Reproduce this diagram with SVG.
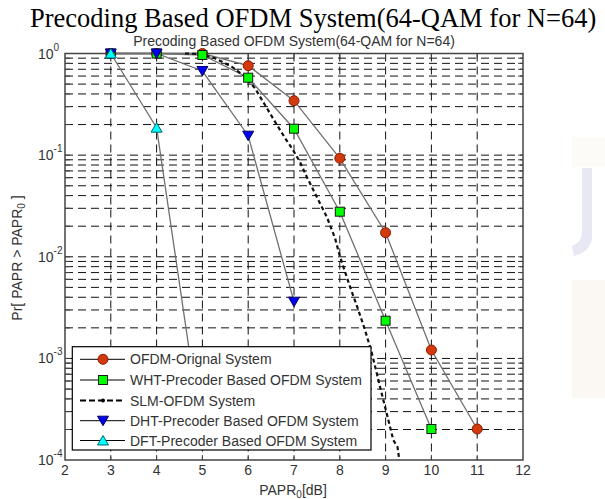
<svg xmlns="http://www.w3.org/2000/svg" width="605" height="499" viewBox="0 0 605 499">
<style>
.grid{fill:none;stroke:#111;stroke-width:1;stroke-dasharray:8 5}
.frame{fill:none;stroke:#444;stroke-width:1.5}
.tick{fill:none;stroke:#444;stroke-width:1}
.curve{fill:none;stroke:#707070;stroke-width:1.3}
.slm{fill:none;stroke:#111;stroke-width:2.2;stroke-dasharray:4 3}
.lbl{font-family:"Liberation Sans",Arial,sans-serif;font-size:14px;fill:#333}
.sup{font-size:10px}
.big{font-family:"Liberation Serif","Times New Roman",serif;font-size:26.5px;fill:#000}
.leg{fill:#fff;stroke:#000;stroke-width:1.2}
.legline{stroke:#000;stroke-width:1}
</style>
<defs>
<circle id="mO" r="5" fill="#d23a0e" stroke="#8a1c00" stroke-width="1"/>
<rect id="mS" x="-4.5" y="-4.5" width="9" height="9" fill="#00ff00" stroke="#1a1a1a" stroke-width="1"/>
<polygon id="mV" points="-5.5,-4.5 5.5,-4.5 0,5" fill="#0000ee" stroke="#000066" stroke-width="1"/>
<polygon id="mA" points="-5.5,4.5 5.5,4.5 0,-5" fill="#00ffff" stroke="#006666" stroke-width="1"/>
</defs>
<rect width="605" height="499" fill="#fff"/>
<g id="background" opacity="0.6">
<rect x="572" y="137" width="33" height="30" fill="#fbfaf2"/>
<rect x="572" y="280" width="33" height="118" fill="#f9f2ea"/>
<path d="M582,168 L592,168 L592,238 Q590,252 574,256 L572,246 Q582,242 582,232 Z" fill="#d9d9ef"/>
</g>
<text class="big" x="30" y="27">Precoding Based OFDM System(64-QAM for N=64)</text>
<text class="lbl" x="294" y="46" text-anchor="middle">Precoding Based OFDM System(64-QAM for N=64)</text>
<g id="axes">
<path class="grid" d="M65,58.15H523M65,63.35H523M65,69.25H523M65,76.05H523M65,84.1H523M65,93.95H523M65,106.65H523M65,124.55H523M65,155.15H523
M65,159.8H523M65,165H523M65,170.9H523M65,177.7H523M65,185.75H523M65,195.6H523M65,208.3H523M65,226.2H523M65,256.8H523
M65,261.45H523M65,266.65H523M65,272.55H523M65,279.35H523M65,287.4H523M65,297.25H523M65,309.95H523M65,327.85H523M65,358.45H523
M65,363.1H523M65,368.3H523M65,374.2H523M65,381H523M65,389.05H523M65,398.9H523M65,411.6H523M65,429.5H523"/>
<path class="grid" d="M110.8,53.5V460M156.6,53.5V460M202.4,53.5V460M248.2,53.5V460M294,53.5V460M339.8,53.5V460M385.6,53.5V460M431.4,53.5V460M477.2,53.5V460"/>
<path class="tick" d="M65,58.15h5M65,63.35h5M65,69.25h5M65,76.05h5M65,84.1h5M65,93.95h5M65,106.65h5M65,124.55h5M65,155.15h5
M65,159.8h5M65,165h5M65,170.9h5M65,177.7h5M65,185.75h5M65,195.6h5M65,208.3h5M65,226.2h5M65,256.8h5
M65,261.45h5M65,266.65h5M65,272.55h5M65,279.35h5M65,287.4h5M65,297.25h5M65,309.95h5M65,327.85h5M65,358.45h5
M65,363.1h5M65,368.3h5M65,374.2h5M65,381h5M65,389.05h5M65,398.9h5M65,411.6h5M65,429.5h5
M523,58.15h-5M523,63.35h-5M523,69.25h-5M523,76.05h-5M523,84.1h-5M523,93.95h-5M523,106.65h-5M523,124.55h-5M523,155.15h-5
M523,159.8h-5M523,165h-5M523,170.9h-5M523,177.7h-5M523,185.75h-5M523,195.6h-5M523,208.3h-5M523,226.2h-5M523,256.8h-5
M523,261.45h-5M523,266.65h-5M523,272.55h-5M523,279.35h-5M523,287.4h-5M523,297.25h-5M523,309.95h-5M523,327.85h-5M523,358.45h-5
M523,363.1h-5M523,368.3h-5M523,374.2h-5M523,381h-5M523,389.05h-5M523,398.9h-5M523,411.6h-5M523,429.5h-5
M110.8,460v-5M156.6,460v-5M202.4,460v-5M248.2,460v-5M294,460v-5M339.8,460v-5M385.6,460v-5M431.4,460v-5M477.2,460v-5
M110.8,53.5v5M156.6,53.5v5M202.4,53.5v5M248.2,53.5v5M294,53.5v5M339.8,53.5v5M385.6,53.5v5M431.4,53.5v5M477.2,53.5v5"/>
<rect class="frame" x="65" y="53.5" width="458" height="406.5"/>
<g class="lbl">
<text x="38" y="58.5">10<tspan class="sup" dy="-8">0</tspan></text>
<text x="38" y="160">10<tspan class="sup" dy="-8">-1</tspan></text>
<text x="38" y="261.5">10<tspan class="sup" dy="-8">-2</tspan></text>
<text x="38" y="363">10<tspan class="sup" dy="-8">-3</tspan></text>
<text x="38" y="464.5">10<tspan class="sup" dy="-8">-4</tspan></text>
</g>
<g class="lbl" text-anchor="middle">
<text x="65" y="475">2</text><text x="110.8" y="475">3</text><text x="156.6" y="475">4</text><text x="202.4" y="475">5</text><text x="248.2" y="475">6</text><text x="294" y="475">7</text><text x="339.8" y="475">8</text><text x="385.6" y="475">9</text><text x="431.4" y="475">10</text><text x="477.2" y="475">11</text><text x="523" y="475">12</text>
</g>
<text class="lbl" x="293" y="495" text-anchor="middle">PAPR<tspan class="sup" dy="3">0</tspan><tspan dy="-3">[dB]</tspan></text>
<text class="lbl" transform="translate(22,258) rotate(-90)" text-anchor="middle">Pr[ PAPR &gt; PAPR<tspan class="sup" dy="3">0</tspan><tspan dy="-3"> ]</tspan></text>
</g>
<g id="connectors">
<polyline id="ofdm-line" class="curve" points="110.8,53.5 156.6,53.5 202.4,53.5 248.2,65.7 294,100.7 339.8,158.3 385.6,232.7 431.4,350 477.2,429"/>
<polyline id="wht-line" class="curve" points="110.8,53.5 156.6,53.5 202.4,55 248.2,77.7 294,128.7 339.8,211.7 385.6,320.7 431.4,429"/>
<path id="slm-line" class="slm" d="M185,53.5 L200,54 215,58.3 231.7,66.7 245,76.7 255,88.3 265,105 275,121.7 285,138 293,150 300,162 306.7,176.7 316.7,196.7 326.7,216.7 335,238 340,256.7 343.3,266.7 350,286.7 358.3,310 365,330 371,350 376,370 380,386.7 385,406.7 390,426.7 393.3,440 397.5,447 399.3,460"/>
<polyline id="dht-line" class="curve" points="110.8,53.5 156.6,53.5 202.4,71 248.2,135.7 294,301.7"/>
<polyline id="dft-line" class="curve" points="110.8,53.5 156.6,127.7 202.4,440"/>
</g>
<g id="ofdm-markers">
<use href="#mO" x="110.8" y="53.5"/><use href="#mO" x="156.6" y="53.5"/><use href="#mO" x="202.4" y="53.5"/><use href="#mO" x="248.2" y="65.7"/><use href="#mO" x="294" y="100.7"/><use href="#mO" x="339.8" y="158.3"/><use href="#mO" x="385.6" y="232.7"/><use href="#mO" x="431.4" y="350"/><use href="#mO" x="477.2" y="429"/>
</g>
<g id="wht-markers">
<use href="#mS" x="110.8" y="53.5"/><use href="#mS" x="156.6" y="53.5"/><use href="#mS" x="202.4" y="55"/><use href="#mS" x="248.2" y="77.7"/><use href="#mS" x="294" y="128.7"/><use href="#mS" x="339.8" y="211.7"/><use href="#mS" x="385.6" y="320.7"/><use href="#mS" x="431.4" y="429"/>
</g>
<g id="dht-markers">
<use href="#mV" x="110.8" y="53.5"/><use href="#mV" x="156.6" y="53.5"/><use href="#mV" x="202.4" y="71"/><use href="#mV" x="248.2" y="135.7"/><use href="#mV" x="294" y="301.7"/>
</g>
<g id="dft-markers">
<use href="#mA" x="110.8" y="53.5"/><use href="#mA" x="156.6" y="127.7"/><use href="#mA" x="202.4" y="440"/>
</g>
<g id="legend">
<rect class="leg" x="72.3" y="346.7" width="298.7" height="103.3"/>
<line class="legline" x1="80" y1="359.3" x2="125" y2="359.3"/><use href="#mO" x="103" y="359.3"/>
<text class="lbl" x="130" y="364.3">OFDM-Orignal System</text>
<line class="legline" x1="80" y1="380" x2="125" y2="380"/><use href="#mS" x="103" y="380"/>
<text class="lbl" x="130" y="385">WHT-Precoder Based OFDM System</text>
<line x1="80" y1="400.5" x2="125" y2="400.5" stroke="#000" stroke-width="2.2" stroke-dasharray="6 3"/><circle cx="103" cy="400.5" r="2" fill="#000"/>
<text class="lbl" x="130" y="405.5">SLM-OFDM System</text>
<line class="legline" x1="80" y1="420.7" x2="125" y2="420.7"/><use href="#mV" x="103" y="420.7"/>
<text class="lbl" x="130" y="425.7">DHT-Precoder Based OFDM System</text>
<line class="legline" x1="80" y1="440.5" x2="125" y2="440.5"/><use href="#mA" x="103" y="440.5"/>
<text class="lbl" x="130" y="445.5">DFT-Precoder Based OFDM System</text>
</g>
</svg>
